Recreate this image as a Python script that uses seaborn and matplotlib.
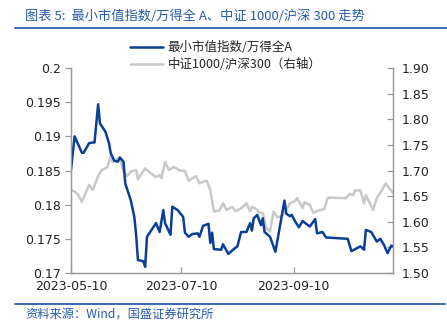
import matplotlib
matplotlib.use("Agg")
import matplotlib.pyplot as plt
import matplotlib.dates as mdates
from matplotlib.lines import Line2D
import seaborn as sns
import pandas as pd

# ---------------- data ----------------
blue_dates = ["2023-05-10","2023-05-12","2023-05-16","2023-05-17","2023-05-20","2023-05-22","2023-05-23",
              "2023-05-25","2023-05-26","2023-05-29","2023-05-31","2023-06-01","2023-06-03","2023-06-05",
              "2023-06-06","2023-06-08","2023-06-09","2023-06-12","2023-06-14","2023-06-15","2023-06-16",
              "2023-06-19","2023-06-20","2023-06-21","2023-06-26","2023-06-28","2023-06-30","2023-07-01",
              "2023-07-04","2023-07-05","2023-07-08","2023-07-11","2023-07-12","2023-07-14","2023-07-16",
              "2023-07-19","2023-07-20","2023-07-22","2023-07-25","2023-07-26","2023-07-27","2023-07-28",
              "2023-08-01","2023-08-02","2023-08-05","2023-08-08","2023-08-10","2023-08-12","2023-08-15",
              "2023-08-17","2023-08-18","2023-08-19","2023-08-21","2023-08-23","2023-08-24","2023-08-25",
              "2023-08-28","2023-08-31","2023-09-05","2023-09-06","2023-09-08","2023-09-09","2023-09-11",
              "2023-09-13","2023-09-15","2023-09-19","2023-09-22","2023-09-23","2023-09-26","2023-09-28",
              "2023-10-10","2023-10-12","2023-10-17","2023-10-19","2023-10-20","2023-10-23","2023-10-26",
              "2023-10-28","2023-10-30","2023-11-01","2023-11-03","2023-11-04"]
blue_values = [0.1851,0.1900,0.1876,0.1876,0.1890,0.1891,0.1891,
               0.1947,0.1919,0.1907,0.1890,0.1875,0.1864,0.1863,
               0.1869,0.1863,0.1831,0.1807,0.1782,0.1756,0.1719,
               0.1717,0.1709,0.1753,0.1773,0.1760,0.1792,0.1773,
               0.1756,0.1797,0.1792,0.1782,0.1759,0.1753,0.1757,
               0.1758,0.1753,0.1769,0.1772,0.1744,0.1759,0.1735,
               0.1734,0.1742,0.1728,0.1735,0.1739,0.1760,0.1760,
               0.1773,0.1762,0.1780,0.1785,0.1770,0.1780,0.1760,
               0.1753,0.1731,0.1806,0.1787,0.1783,0.1785,0.1775,
               0.1767,0.1776,0.1768,0.1779,0.1758,0.1760,0.1752,
               0.1750,0.1732,0.1739,0.1734,0.1763,0.1760,0.1746,
               0.1750,0.1741,0.1729,0.1740,0.1739]

grey_dates = ["2023-05-10","2023-05-12","2023-05-14","2023-05-16","2023-05-20","2023-05-22","2023-05-25",
              "2023-05-27","2023-05-30","2023-06-01","2023-06-02","2023-06-04","2023-06-06","2023-06-08",
              "2023-06-10","2023-06-12","2023-06-15","2023-06-16","2023-06-20","2023-06-23","2023-06-26",
              "2023-06-28","2023-06-29","2023-07-01","2023-07-03","2023-07-06","2023-07-09","2023-07-12",
              "2023-07-14","2023-07-18","2023-07-20","2023-07-22","2023-07-24","2023-07-26","2023-07-28",
              "2023-07-31","2023-08-02","2023-08-04","2023-08-07","2023-08-09","2023-08-12","2023-08-15",
              "2023-08-17","2023-08-18","2023-08-20","2023-08-22","2023-08-24","2023-08-26","2023-08-28",
              "2023-08-30","2023-09-01","2023-09-03","2023-09-06","2023-09-08","2023-09-11","2023-09-12",
              "2023-09-15","2023-09-16","2023-09-19","2023-09-21","2023-09-23","2023-09-27","2023-09-29",
              "2023-10-09","2023-10-11","2023-10-13","2023-10-14","2023-10-17","2023-10-19","2023-10-20",
              "2023-10-24","2023-10-26","2023-10-29","2023-10-31","2023-11-02","2023-11-04"]
grey_values = [1.662,1.659,1.652,1.639,1.672,1.662,1.689,
               1.701,1.706,1.727,1.717,1.721,1.726,1.698,
               1.689,1.698,1.701,1.683,1.704,1.695,1.687,
               1.691,1.685,1.717,1.701,1.707,1.700,1.699,
               1.680,1.689,1.675,1.678,1.680,1.662,1.620,
               1.622,1.636,1.623,1.629,1.621,1.626,1.636,
               1.620,1.629,1.626,1.618,1.617,1.587,1.581,
               1.620,1.609,1.610,1.623,1.636,1.641,1.646,
               1.627,1.638,1.633,1.617,1.621,1.625,1.647,
               1.646,1.654,1.652,1.661,1.661,1.636,1.652,
               1.623,1.646,1.662,1.675,1.665,1.656]

blue_label = "最小市值指数/万得全A"
grey_label = "中证1000/沪深300（右轴）"
left_ticks = [0.17, 0.175, 0.18, 0.185, 0.19, 0.195, 0.2]
right_ticks = [1.50, 1.55, 1.60, 1.65, 1.70, 1.75, 1.80, 1.85, 1.90]
x_ticks = ["2023-05-10", "2023-07-10", "2023-09-10"]
title = "图表 5:  最小市值指数/万得全 A、中证 1000/沪深 300 走势"
source = "资料来源：Wind，国盛证券研究所"

# ---------------- style ----------------
sns.set_theme(style="white")
plt.rcParams['font.family'] = ['DejaVu Sans', 'Noto Sans CJK SC']
CJK = ['Noto Sans CJK SC', 'DejaVu Sans']

BLUE = "#0B3F94"
GREY = "#C9C9C9"
TITLE_BLUE = "#2A5CAA"
SPINE = "#9A9A9A"

df_b = pd.DataFrame({"date": pd.to_datetime(blue_dates), "v": blue_values})
df_g = pd.DataFrame({"date": pd.to_datetime(grey_dates), "v": grey_values})

fig = plt.figure(figsize=(4.47, 3.31), dpi=100)
ax = fig.add_axes([71/447, 1-273/331, (393-71)/447, (273-68)/331])
ax2 = ax.twinx()

sns.lineplot(data=df_g, x="date", y="v", ax=ax2, color=GREY, linewidth=1.8)
sns.lineplot(data=df_b, x="date", y="v", ax=ax, color=BLUE, linewidth=1.8)

ax.set_zorder(ax2.get_zorder() + 1)
ax.patch.set_visible(False)

ax.set_ylim(0.17, 0.2)
ax2.set_ylim(1.5, 1.9)
ax.set_xlim(pd.Timestamp(blue_dates[0]), pd.Timestamp(blue_dates[-1]))
ax.set_yticks(left_ticks)
ax.set_yticklabels([f"{t:g}" for t in left_ticks])
ax2.set_yticks(right_ticks)
ax2.set_yticklabels([f"{t:.2f}" for t in right_ticks])
ax.set_xticks(pd.to_datetime(x_ticks))
ax.xaxis.set_major_formatter(mdates.DateFormatter("%Y-%m-%d"))
ax.set_xlabel("")
ax.set_ylabel("")
ax2.set_ylabel("")

for a in (ax, ax2):
    for s in a.spines.values():
        s.set_color(SPINE)
        s.set_linewidth(0.9)
    a.spines['top'].set_visible(False)
    a.grid(False)

ax.tick_params(axis='y', direction='out', length=4, width=0.9, color=SPINE,
               labelsize=9, labelcolor='#222222', pad=3, left=True)
ax.tick_params(axis='x', direction='in', length=4, width=0.9, color=SPINE,
               labelsize=9, labelcolor='#222222', pad=5, bottom=True)
ax2.tick_params(axis='y', direction='in', length=4, width=0.9, color=SPINE,
                labelsize=9, labelcolor='#222222', pad=6, right=True)

# legend
handles = [Line2D([0], [0], color=BLUE, lw=1.8), Line2D([0], [0], color=GREY, lw=1.8)]
leg = fig.legend(handles, [blue_label, grey_label], loc='upper left',
                 bbox_to_anchor=(125/447, 1-36/331), frameon=False,
                 prop={'family': CJK, 'size': 9}, handlelength=2.6,
                 handletextpad=0.4, labelspacing=0.35, borderaxespad=0)

# title / source
fig.text(25/447, 1-16/331, title, fontsize=9.5, color=TITLE_BLUE, family=CJK,
         va='center', ha='left', style='italic')
fig.add_artist(Line2D([15/447, 1.0], [1-28/331, 1-28/331], color=TITLE_BLUE, lw=1.3))
fig.add_artist(Line2D([15/447, 445/447], [1-304/331, 1-304/331], color=TITLE_BLUE, lw=1.3))
fig.text(25/447, 1-314/331, source, fontsize=8.8, color=TITLE_BLUE, family=CJK,
         va='center', ha='left', style='italic')

fig.savefig("out.png", dpi=100)
